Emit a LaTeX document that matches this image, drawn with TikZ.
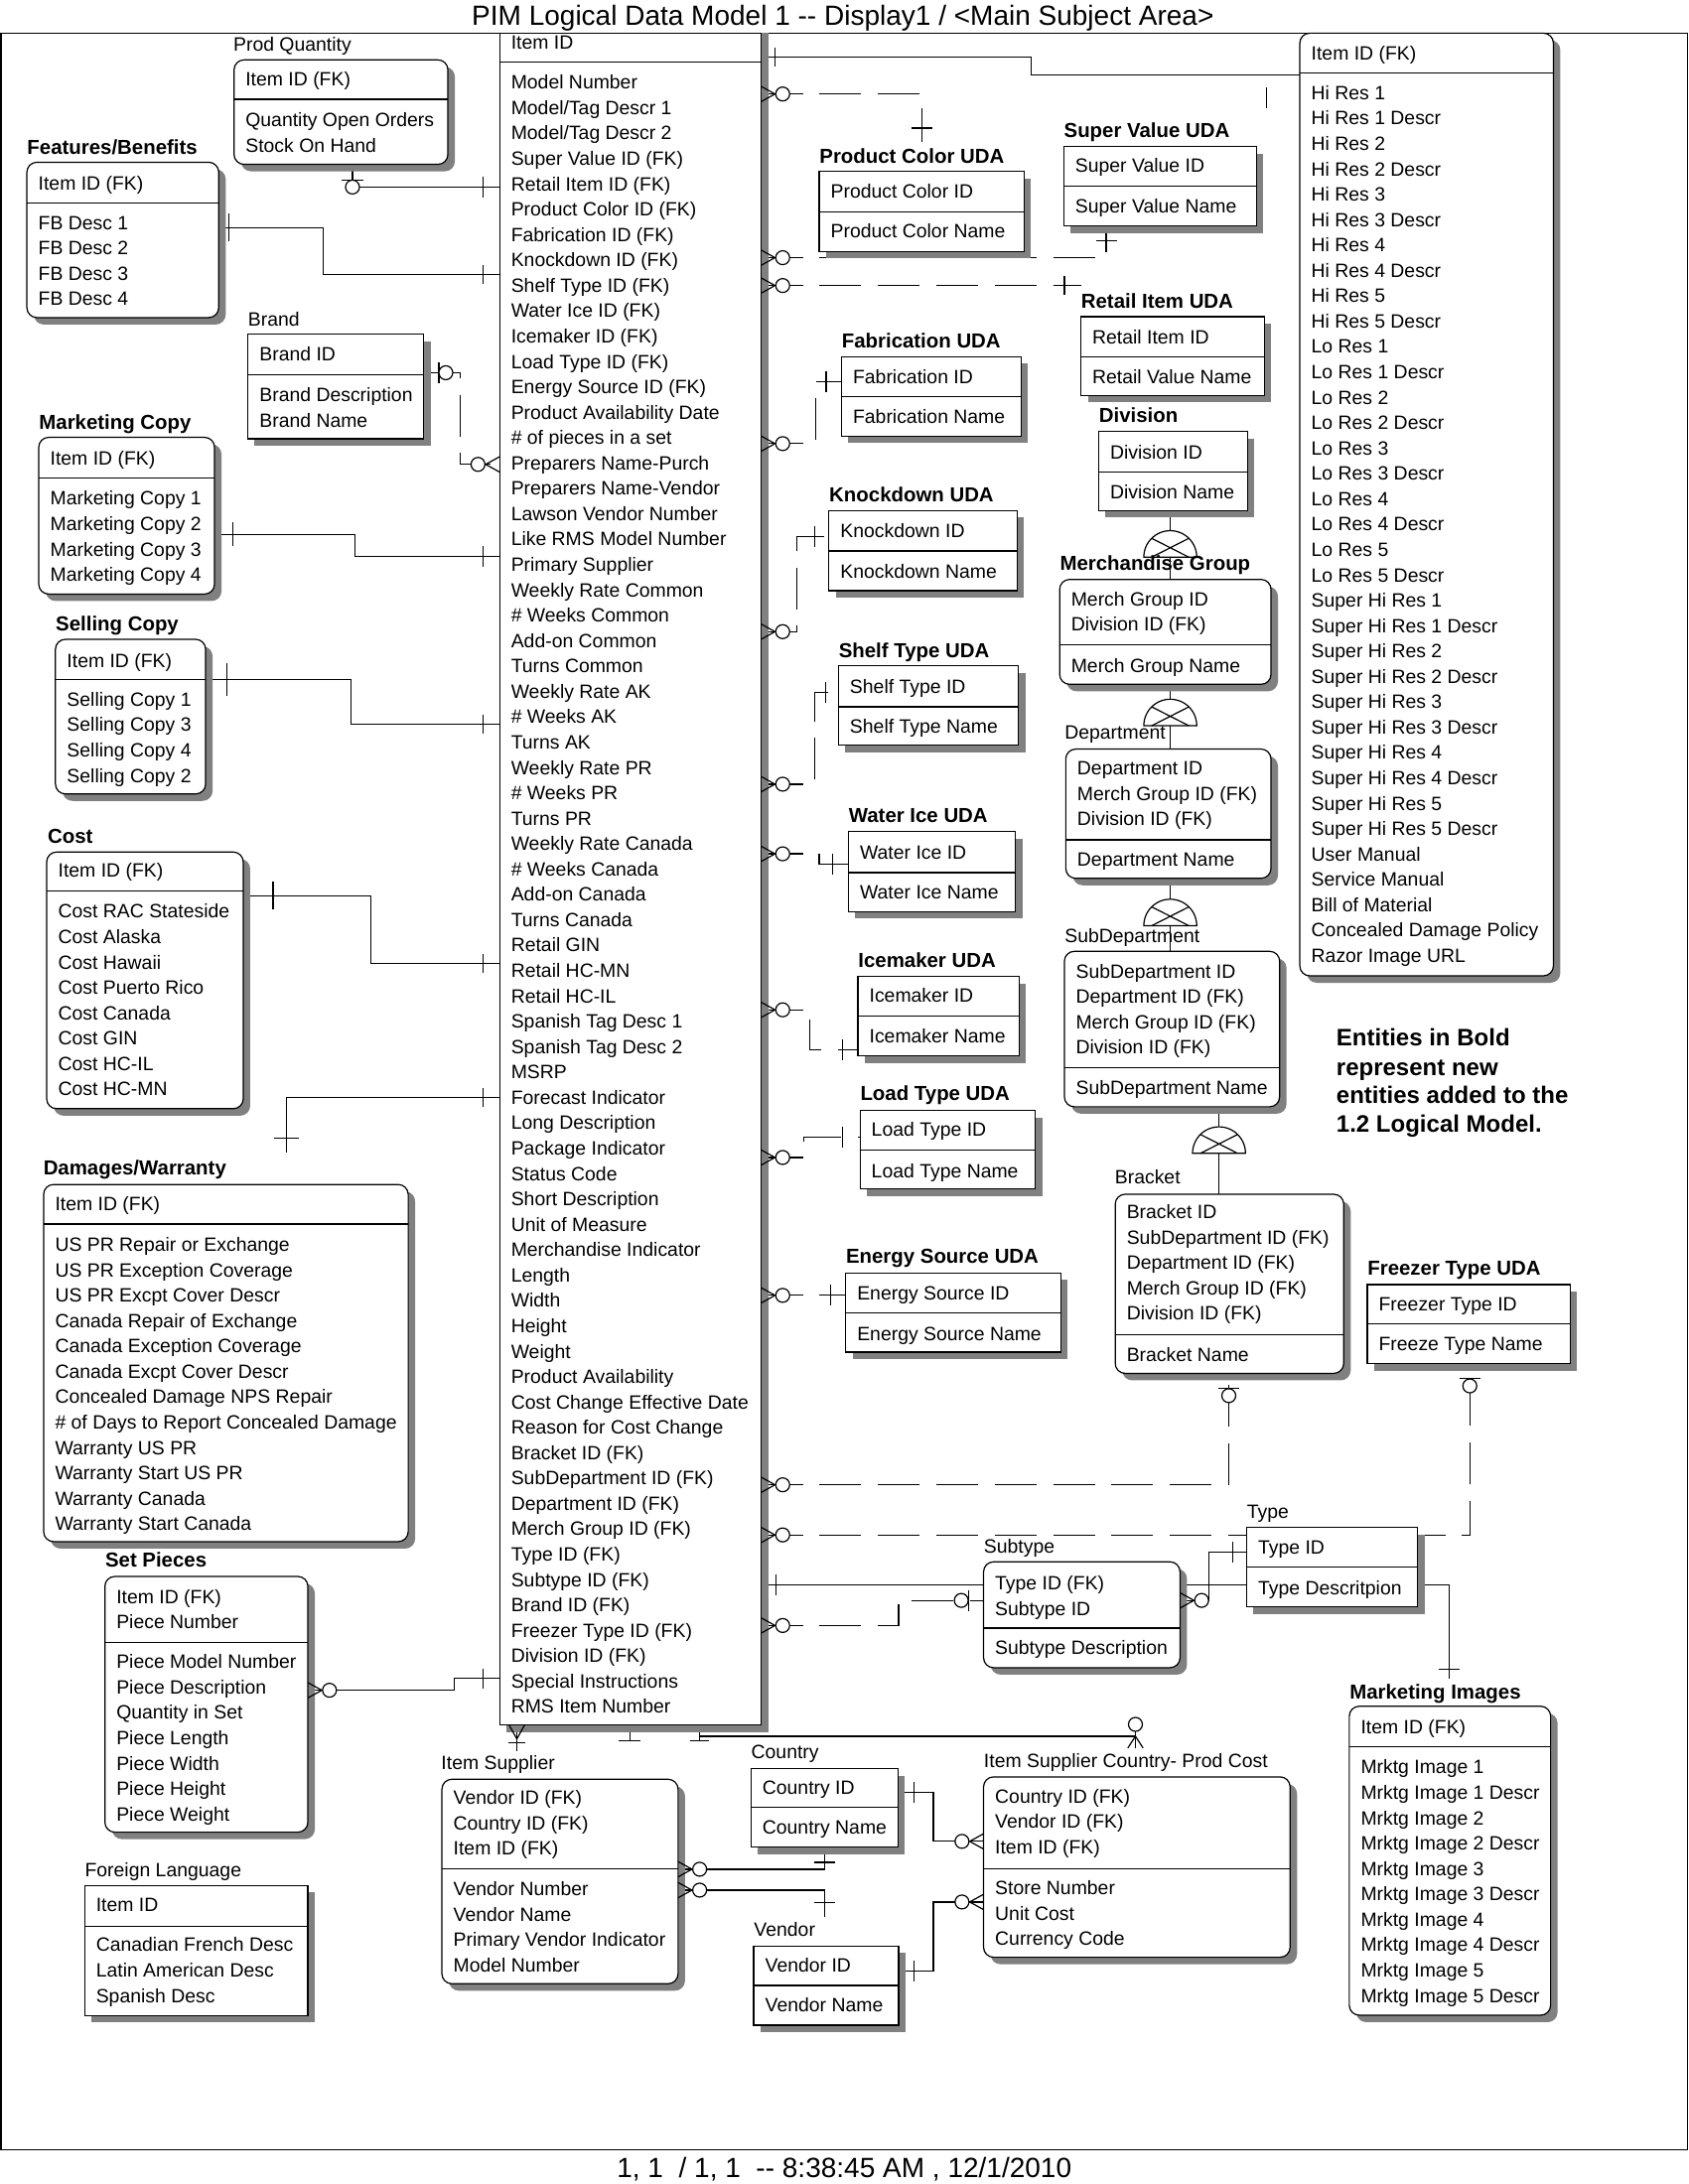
\documentclass[tikz,border=0pt]{standalone}
\usepackage{fontspec}
\setmainfont{Liberation Sans}
\newcommand\Ent[7]{%
  \fill[#7,shad] ({#2+5},{#3+5}) rectangle ({#4+5},{#5+5});
  \node[#7, anchor=north west, minimum width={(#4-#2)*0.7013pt}, minimum height={(#5-#3)*0.7013pt}] (#1) at (#2,#3) {};
  \draw[ln] (#2,#6) -- (#4,#6);}
\newcommand\Rows[4]{\foreach \itm [count=\nn] in {#4} {\node[txt] (#1-\nn) at (#2,{#3+5+(\nn-1)*18.22}) {\itm};}}
\newcommand\Lbl[4]{\node[txt] (#1) at (#2,{#3+5}) {#4};}
\newcommand\Blbl[4]{\node[btxt] (#1) at (#2,{#3+5.2}) {#4};}
\newcommand\Ring[2]{\draw[mk,fill=white] ({#1},{#2}) circle[radius=3.5pt];}
\newcommand\VB[3]{\draw[mk] ({#1},{#2-#3}) -- ({#1},{#2+#3});}
\newcommand\HB[3]{\draw[mk] ({#1-#3},{#2}) -- ({#1+#3},{#2});}
\newcommand\Crow[4]{\draw[mk] ({#1+10*#3},{#2+10*#4}) -- ({#1+5.5*#4},{#2+5.5*#3})
   ({#1+10*#3},{#2+10*#4}) -- ({#1-5.5*#4},{#2-5.5*#3});}
\newcommand\CrowO[4]{\Crow{#1}{#2}{#3}{#4}\Ring{#1+15.5*#3}{#2+15.5*#4}}
\newcommand\Cat[2]{\draw[mk] plot[domain=0:180,samples=40] ({#1+19*cos(\x)},{#2-19*sin(\x)}) -- cycle;
  \draw[mk] ({#1-13.3},{#2}) -- ({#1+13.3},{#2-13.5}) ({#1+13.3},{#2}) -- ({#1-13.3},{#2-13.5});}
\begin{document}
\begin{tikzpicture}[x=0.7013pt,y=-0.7013pt,
  ln/.style={line width=0.6pt},
  ebox/.style={draw, fill=white, line width=0.6pt, inner sep=0pt, outer sep=0pt},
  rbox/.style={ebox, rounded corners=5pt},
  shad/.style={fill=black!50, draw=none},
  txt/.style={font=\fontsize{9.7}{11}\selectfont, inner sep=0pt, anchor=base west},
  btxt/.style={font=\fontsize{10.2}{12}\selectfont\bfseries, inner sep=0pt, anchor=base west},
  notetxt/.style={font=\fontsize{12}{14}\selectfont\bfseries, inner sep=0pt, anchor=base west},
  rel/.style={line width=0.6pt},
  nrel/.style={line width=0.6pt, dash pattern=on 21pt off 8.4pt},
  mk/.style={line width=0.6pt}]
\useasboundingbox (0,0) rectangle (1212,1568);
% frame, title, footer
\draw[ln] (0.7,23.8) rectangle (1211,1543.5);
\node[font=\fontsize{14}{16}\selectfont, inner sep=0pt, anchor=base] (title) at (605,18.5) {PIM Logical Data Model 1 -{}- Display1 / <Main Subject Area>};
\node[font=\fontsize{14}{16}\selectfont, inner sep=0pt, anchor=base] (footer) at (606,1563.5) {1, 1\ \ / 1, 1\ \ -{}- 8:38:45 AM , 12/1/2010};

% ---------- connector lines (under the boxes) ----------
\draw[rel] (546.3,41) -- (740,41) -- (740,54) -- (933,54);
\draw[nrel] (546.3,67.5) -- (662,67.5) -- (662,102);
\draw[nrel] (546.3,185) -- (794,185) -- (794,162.3);
\draw[nrel] (546.3,205) -- (776,205);
\draw[nrel] (546.3,318.5) -- (585.5,318.5) -- (585.5,274) -- (604,274);
\draw[nrel] (546.3,453.5) -- (572,453.5) -- (572,385) -- (595,385);
\draw[nrel] (546.3,563) -- (585,563) -- (585,497) -- (601.8,497);
\draw[nrel] (546.3,613) -- (588,613) -- (588,620.5) -- (609,620.5);
\draw[nrel] (546.3,725) -- (581,725) -- (581,753.5) -- (615.8,753.5);
\draw[nrel] (546.3,831) -- (577,831) -- (577,816.5) -- (617.3,816.5);
\draw[nrel] (546.3,930) -- (607,930);
\draw[nrel] (546.3,1066) -- (882,1066) -- (882,986);
\draw[nrel] (546.3,1102) -- (1055,1102) -- (1055,979);
\draw[rel] (546.3,1138) -- (894.8,1138);
\draw[nrel] (546.3,1167) -- (645,1167) -- (645,1149) -- (706,1149);
\draw[rel] (894.8,1114.5) -- (868,1114.5) -- (868,1149) -- (847,1149);
\draw[rel] (1017.4,1138) -- (1040,1138) -- (1040,1205);
\draw[rel] (371,1238.5) -- (371,1257);
\draw[rel] (502,1238.5) -- (502,1250);
\draw[rel] (452,1238.5) -- (452,1250);
\draw[rel] (502,1246.5) -- (815,1246.5);
\draw[rel] (815,1243) -- (815,1255);
\draw[rel] (592,1326.1) -- (592,1342) -- (486.7,1342);
\draw[rel] (486.7,1357) -- (592,1357) -- (592,1376);
\draw[rel] (644.5,1287) -- (670,1287) -- (670,1322) -- (706,1322);
\draw[rel] (645,1415) -- (670,1415) -- (670,1365.5) -- (706,1365.5);
\draw[rel] (221,1213.5) -- (326,1213.5) -- (326,1205) -- (358.6,1205);
\draw[rel] (157,163.5) -- (232,163.5) -- (232,197) -- (358.6,197);
\draw[rel] (253,118) -- (253,134.3) -- (358.6,134.3);
\draw[nrel] (304.2,267.6) -- (330.4,267.6) -- (330.4,333.4) -- (358.6,333.4);
\draw[rel] (154,383.6) -- (255,383.6) -- (255,399.4) -- (358.6,399.4);
\draw[rel] (147.6,487.8) -- (252,487.8) -- (252,520) -- (358.6,520);
\draw[rel] (174.6,643) -- (266,643) -- (266,691.8) -- (358.6,691.8);
\draw[rel] (358.6,787.8) -- (205.5,787.8) -- (205.5,827.6);
% category lines
\draw[rel] (840,366.6) -- (840,381) (840,400) -- (840,416);
\draw[rel] (840,491.3) -- (840,502) (840,521) -- (840,537.8);
\draw[rel] (840,630.6) -- (840,645.6) (840,664.6) -- (840,683);
\draw[rel] (845,796.5) -- (875,796.5) -- (875,809) (875,828) -- (875,857.4);

% ---------- entities ----------
\fill[shad] (546.3,23.8) rectangle (551.3,30);
\Ent{main}{358.6}{23.8}{546.3}{1238.5}{44.7}{ebox}
\Rows{mainK}{366.6}{30.4}{Item ID}
\Rows{mainN}{366.6}{59}{Model Number, Model/Tag Descr 1, Model/Tag Descr 2, Super Value ID (FK), Retail Item ID (FK), Product Color ID (FK), Fabrication ID (FK), Knockdown ID (FK), Shelf Type ID (FK), Water Ice ID (FK), Icemaker ID (FK), Load Type ID (FK), Energy Source ID (FK), Product Availability Date, \# of pieces in a set, Preparers Name-Purch, Preparers Name-Vendor, Lawson Vendor Number, Like RMS Model Number, Primary Supplier, Weekly Rate Common, \# Weeks Common, Add-on Common, Turns Common, Weekly Rate AK, \# Weeks AK, Turns AK, Weekly Rate PR, \# Weeks PR, Turns PR, Weekly Rate Canada, \# Weeks Canada, Add-on Canada, Turns Canada, Retail GIN, Retail HC-MN, Retail HC-IL, Spanish Tag Desc 1, Spanish Tag Desc 2, MSRP, Forecast Indicator, Long Description, Package Indicator, Status Code, Short Description, Unit of Measure, Merchandise Indicator, Length, Width, Height, Weight, Product Availability, Cost Change Effective Date, Reason for Cost Change, Bracket ID (FK), SubDepartment ID (FK), Department ID (FK), Merch Group ID (FK), Type ID (FK), Subtype ID (FK), Brand ID (FK), Freezer Type ID (FK), Division ID (FK), Special Instructions, RMS Item Number}

\Ent{pq}{168}{43}{321.5}{118}{71.3}{rbox}
\Lbl{pqL}{167.3}{32}{Prod Quantity}
\Rows{pqK}{176}{57}{Item ID (FK)}
\Rows{pqN}{176}{86}{Quantity Open Orders, Stock On Hand}

\Ent{fb}{19.3}{116.5}{157}{228}{145.7}{rbox}
\Blbl{fbL}{19.3}{105.8}{Features/Benefits}
\Rows{fbK}{27.3}{131.2}{Item ID (FK)}
\Rows{fbN}{27.3}{159.7}{FB Desc 1, FB Desc 2, FB Desc 3, FB Desc 4}

\Ent{brand}{177.8}{240}{304.2}{315}{269}{ebox}
\Lbl{brandL}{177.8}{229.3}{Brand}
\Rows{brandK}{186}{254.3}{Brand ID}
\Rows{brandN}{186}{283.3}{Brand Description, Brand Name}

\Ent{mc}{27.8}{314}{154}{426.5}{343}{rbox}
\Blbl{mcL}{27.8}{303}{Marketing Copy}
\Rows{mcK}{35.8}{329.2}{Item ID (FK)}
\Rows{mcN}{35.8}{357.7}{Marketing Copy 1, Marketing Copy 2, Marketing Copy 3, Marketing Copy 4}

\Ent{sc}{39.8}{459}{147.6}{570}{487.8}{rbox}
\Blbl{scL}{39.8}{448}{Selling Copy}
\Rows{scK}{47.8}{474}{Item ID (FK)}
\Rows{scN}{47.8}{502}{Selling Copy 1, Selling Copy 3, Selling Copy 4, Selling Copy 2}

\Ent{cost}{33.5}{611.7}{174.6}{796}{639.5}{rbox}
\Blbl{costL}{34}{600}{Cost}
\Rows{costK}{41.5}{625}{Item ID (FK)}
\Rows{costN}{41.5}{654.2}{Cost RAC Stateside, Cost Alaska, Cost Hawaii, Cost Puerto Rico, Cost Canada, Cost GIN, Cost HC-IL, Cost HC-MN}

\Ent{dw}{31.3}{850.4}{293}{1106.8}{878.8}{rbox}
\Blbl{dwL}{30.9}{838.4}{Damages/Warranty}
\Rows{dwK}{39.3}{864.5}{Item ID (FK)}
\Rows{dwN}{39.3}{893.4}{US PR Repair or Exchange, US PR Exception Coverage, US PR Excpt Cover Descr, Canada Repair of Exchange, Canada Exception Coverage, Canada Excpt Cover Descr, Concealed Damage NPS Repair, \# of Days to Report Concealed Damage, Warranty US PR, Warranty Start US PR, Warranty Canada, Warranty Start Canada}

\Ent{sp}{75.3}{1131.8}{221}{1315.4}{1179.3}{rbox}
\Blbl{spL}{75.3}{1120}{Set Pieces}
\Rows{spK}{83.3}{1146.2}{Item ID (FK), Piece Number}
\Rows{spN}{83.3}{1192.9}{Piece Model Number, Piece Description, Quantity in Set, Piece Length, Piece Width, Piece Height, Piece Weight}

\Ent{fl}{60.7}{1353.7}{221}{1447}{1382.9}{ebox}
\Lbl{flL}{60.7}{1342.3}{Foreign Language}
\Rows{flK}{68.7}{1367.6}{Item ID}
\Rows{flN}{68.7}{1396.2}{Canadian French Desc, Latin American Desc, Spanish Desc}

\Ent{is}{317.2}{1277.4}{486.7}{1424.2}{1341.7}{rbox}
\Lbl{isL}{316.5}{1265.1}{Item Supplier}
\Rows{isK}{325.2}{1290.5}{Vendor ID (FK), Country ID (FK), Item ID (FK)}
\Rows{isN}{325.2}{1356.1}{Vendor Number, Vendor Name, Primary Vendor Indicator, Model Number}

\Ent{cty}{539}{1269.8}{644.5}{1326.1}{1297.6}{ebox}
\Lbl{ctyL}{539}{1257.9}{Country}
\Rows{ctyK}{547}{1283.5}{Country ID}
\Rows{ctyN}{547}{1312}{Country Name}

\Ent{ven}{541}{1397}{645}{1454}{1425.4}{ebox}
\Lbl{venL}{541}{1385.5}{Vendor}
\Rows{venK}{549}{1411}{Vendor ID}
\Rows{venN}{549}{1439.6}{Vendor Name}

\Ent{iscpc}{706}{1275.7}{926}{1405.2}{1341.6}{rbox}
\Lbl{iscpcL}{706}{1263.9}{Item Supplier Country- Prod Cost}
\Rows{iscpcK}{714}{1289.3}{Country ID (FK), Vendor ID (FK), Item ID (FK)}
\Rows{iscpcN}{714}{1355.3}{Store Number, Unit Cost, Currency Code}

\Ent{mi}{968.5}{1225}{1113}{1446.8}{1254.3}{rbox}
\Blbl{miL}{968.5}{1214.4}{Marketing Images}
\Rows{miK}{976.5}{1240}{Item ID (FK)}
\Rows{miN}{976.5}{1268.6}{Mrktg Image 1, Mrktg Image 1 Descr, Mrktg Image 2, Mrktg Image 2 Descr, Mrktg Image 3, Mrktg Image 3 Descr, Mrktg Image 4, Mrktg Image 4 Descr, Mrktg Image 5, Mrktg Image 5 Descr}

\Ent{st}{706}{1121.3}{847}{1197.3}{1168.8}{rbox}
\Lbl{stL}{706}{1110.3}{Subtype}
\Rows{stK}{714}{1136.5}{Type ID (FK), Subtype ID}
\Rows{stN}{714}{1182.8}{Subtype Description}

\Ent{ty}{894.8}{1096.8}{1017.4}{1153.8}{1125.3}{ebox}
\Lbl{tyL}{894.8}{1085}{Type}
\Rows{tyK}{902.8}{1111}{Type ID}
\Rows{tyN}{902.8}{1140}{Type Descritpion}

\Ent{fz}{981.4}{922.2}{1127}{979}{950.4}{ebox}
\Blbl{fzL}{981.4}{910.5}{Freezer Type UDA}
\Rows{fzK}{989.4}{936}{Freezer Type ID}
\Rows{fzN}{989.4}{964.5}{Freeze Type Name}

\Ent{br}{800.5}{857.4}{964.5}{986}{958.5}{rbox}
\Lbl{brL}{800}{845}{Bracket}
\Rows{brK}{808.5}{869.9}{Bracket ID, SubDepartment ID (FK), Department ID (FK), Merch Group ID (FK), Division ID (FK)}
\Rows{brN}{808.5}{972.5}{Bracket Name}

\Ent{sd}{764}{683}{918.5}{794.6}{766.7}{rbox}
\Lbl{sdL}{764}{672}{SubDepartment}
\Rows{sdK}{772}{697.2}{SubDepartment ID, Department ID (FK), Merch Group ID (FK), Division ID (FK)}
\Rows{sdN}{772}{781}{SubDepartment Name}

\Ent{dp}{765}{537.8}{912.3}{630.6}{603}{rbox}
\Lbl{dpL}{764}{525.5}{Department}
\Rows{dpK}{773}{551.4}{Department ID, Merch Group ID (FK), Division ID (FK)}
\Rows{dpN}{773}{617}{Department Name}

\Ent{mg}{760.6}{416}{912.3}{491.3}{463}{rbox}
\Blbl{mgL}{760.6}{404.6}{Merchandise Group}
\Rows{mgK}{768.6}{430}{Merch Group ID, Division ID (FK)}
\Rows{mgN}{768.6}{477.7}{Merch Group Name}

\Ent{dv}{788.6}{309.8}{895.5}{366.6}{339}{ebox}
\Blbl{dvL}{788.6}{298}{Division}
\Rows{dvK}{796.6}{324.3}{Division ID}
\Rows{dvN}{796.6}{353}{Division Name}

\Ent{ri}{775.8}{227.4}{907.6}{284}{256}{ebox}
\Blbl{riL}{775.8}{216}{Retail Item UDA}
\Rows{riK}{783.8}{242}{Retail Item ID}
\Rows{riN}{783.8}{270.5}{Retail Value Name}

\Ent{sv}{763.5}{105.3}{901.8}{162.3}{133.8}{ebox}
\Blbl{svL}{763.5}{93.4}{Super Value UDA}
\Rows{svK}{771.5}{118.8}{Super Value ID}
\Rows{svN}{771.5}{148}{Super Value Name}

\Ent{pc}{588}{123}{735}{180.6}{152}{ebox}
\Blbl{pcL}{588}{112}{Product Color UDA}
\Rows{pcK}{596}{137.4}{Product Color ID}
\Rows{pcN}{596}{166}{Product Color Name}

\Ent{fa}{604}{256}{733}{313}{284.7}{ebox}
\Blbl{faL}{604}{244.8}{Fabrication UDA}
\Rows{faK}{612}{270.2}{Fabrication ID}
\Rows{faN}{612}{299}{Fabrication Name}

\Ent{kd}{595}{366.6}{730}{424}{395.5}{ebox}
\Blbl{kdL}{595}{354.8}{Knockdown UDA}
\Rows{kdK}{603}{380.7}{Knockdown ID}
\Rows{kdN}{603}{410}{Knockdown Name}

\Ent{sh}{601.8}{478}{731}{535}{507.5}{ebox}
\Blbl{shL}{601.8}{466.8}{Shelf Type UDA}
\Rows{shK}{609.8}{492.8}{Shelf Type ID}
\Rows{shN}{609.8}{521.4}{Shelf Type Name}

\Ent{wi}{609}{597}{729}{654.4}{626.5}{ebox}
\Blbl{wiL}{609}{585.6}{Water Ice UDA}
\Rows{wiK}{617}{611.7}{Water Ice ID}
\Rows{wiN}{617}{640.3}{Water Ice Name}

\Ent{im}{615.8}{701.2}{731.5}{758}{729.6}{ebox}
\Blbl{imL}{615.8}{689.3}{Icemaker UDA}
\Rows{imK}{623.8}{714.8}{Icemaker ID}
\Rows{imN}{623.8}{744}{Icemaker Name}

\Ent{lt}{617.3}{797.3}{743}{853.5}{825.5}{ebox}
\Blbl{ltL}{617.3}{785}{Load Type UDA}
\Rows{ltK}{625.3}{811}{Load Type ID}
\Rows{ltN}{625.3}{840.3}{Load Type Name}

\Ent{es}{607}{914}{761.5}{970.7}{942.5}{ebox}
\Blbl{esL}{607}{902}{Energy Source UDA}
\Rows{esK}{615}{928}{Energy Source ID}
\Rows{esN}{615}{957.3}{Energy Source Name}

\Ent{img}{933}{23.8}{1115}{700.6}{52.3}{rbox}
\Rows{imgK}{941}{38}{Item ID (FK)}
\Rows{imgN}{941}{66.5}{Hi Res 1, Hi Res 1 Descr, Hi Res 2, Hi Res 2 Descr, Hi Res 3, Hi Res 3 Descr, Hi Res 4, Hi Res 4 Descr, Hi Res 5, Hi Res 5 Descr, Lo Res 1, Lo Res 1 Descr, Lo Res 2, Lo Res 2 Descr, Lo Res 3, Lo Res 3 Descr, Lo Res 4, Lo Res 4 Descr, Lo Res 5, Lo Res 5 Descr, Super Hi Res 1, Super Hi Res 1 Descr, Super Hi Res 2, Super Hi Res 2 Descr, Super Hi Res 3, Super Hi Res 3 Descr, Super Hi Res 4, Super Hi Res 4 Descr, Super Hi Res 5, Super Hi Res 5 Descr, User Manual, Service Manual, Bill of Material, Concealed Damage Policy, Razor Image URL}

% note
\node[notetxt] (note1) at (959,751) {Entities in Bold};
\node[notetxt] (note2) at (959,772.5) {represent new};
\node[notetxt] (note3) at (959,792.5) {entities added to the};
\node[notetxt] (note4) at (959,813) {1.2 Logical Model.};

% ---------- markers ----------
\VB{556}{41}{7}
\draw[mk] (909,63) -- (909,78);
\CrowO{546.3}{67.5}{1}{0} \HB{662}{92}{7.5}
\CrowO{546.3}{185}{1}{0} \HB{794}{173}{7.5}
\CrowO{546.3}{205}{1}{0} \VB{764}{205}{7}
\CrowO{546.3}{318.5}{1}{0} \VB{593}{274}{7.5}
\CrowO{546.3}{453.5}{1}{0} \VB{584.5}{385}{7.5}
\CrowO{546.3}{563}{1}{0} \VB{592.5}{497}{7.5}
\CrowO{546.3}{613}{1}{0} \VB{597.5}{620.5}{7.5}
\CrowO{546.3}{725}{1}{0} \VB{604.5}{753.5}{7.5}
\CrowO{546.3}{831}{1}{0} \VB{605}{816.5}{7.5}
\CrowO{546.3}{930}{1}{0} \VB{596}{930}{7.5}
\CrowO{546.3}{1066}{1}{0} \HB{882}{996.5}{7.5} \Ring{882}{1002}
\CrowO{546.3}{1102}{1}{0} \HB{1055}{989.5}{7.5} \Ring{1055}{995}
\VB{557}{1138}{7.5}
\CrowO{546.3}{1167}{1}{0} \VB{695.5}{1149}{7.5} \Ring{690}{1149}
\VB{885}{1114.5}{7.5} \CrowO{847}{1149}{1}{0}
\HB{1040}{1198.5}{7.5}
\Crow{371}{1238.5}{0}{1} \HB{371}{1251}{6}
\HB{502}{1250}{7} \HB{452}{1250}{8}
\Ring{815}{1238}
\draw[mk] (815,1246.5) -- (809.5,1255) (815,1246.5) -- (820.5,1255);
\HB{592}{1337}{7.5} \CrowO{486.7}{1342}{1}{0}
\HB{592}{1366}{7.5} \CrowO{486.7}{1357}{1}{0}
\VB{656}{1287}{7.5} \CrowO{706}{1322}{(-1)}{0}
\VB{656}{1415}{7.5} \CrowO{706}{1365.5}{(-1)}{0}
\VB{347}{1205}{7} \CrowO{221}{1213.5}{1}{0}
\VB{164}{163.5}{10} \VB{347}{197}{7}
\HB{253}{129.5}{7.5} \Ring{253}{134.3} \VB{347}{134.3}{7.5}
\VB{315}{267.6}{7.5} \Ring{320}{267.6} \CrowO{358.6}{333.4}{(-1)}{0}
\VB{167}{383.6}{8.5} \VB{347}{399.4}{7.5}
\VB{163}{487.8}{11.5} \VB{347}{520}{7}
\VB{196}{643}{10} \VB{347}{691.8}{7}
\VB{347}{787.8}{7} \HB{205.5}{817}{9}
% category symbols
\Cat{840}{400} \Cat{840}{521} \Cat{840}{664.6} \Cat{875}{828}
\end{tikzpicture}
\end{document}
